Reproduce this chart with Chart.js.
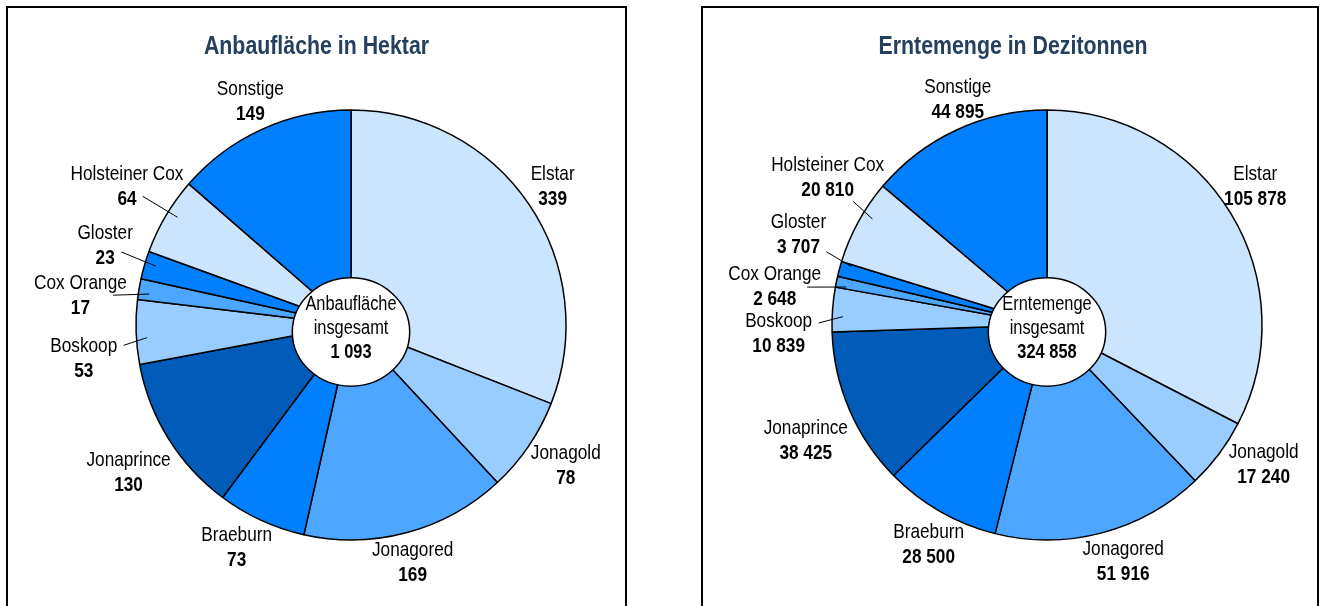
<!DOCTYPE html>
<html>
<head>
<meta charset="utf-8">
<script src="https://cdn.jsdelivr.net/npm/chart.js@4.4.1/dist/chart.umd.min.js"></script>
<style>
  html, body { margin: 0; padding: 0; background: #fff; width: 1324px; height: 606px; overflow: hidden; }
  .panel { position: absolute; top: 6px; height: 660px; border: 2px solid #000; border-bottom: none; box-sizing: border-box; }
  #p1 { left: 6px; width: 621px; }
  #p2 { left: 701px; width: 618px; }
  canvas { position: absolute; left: 0; top: 0; }
</style>
</head>
<body>
<div class="panel" id="p1"><canvas id="c1" width="617" height="598"></canvas></div>
<div class="panel" id="p2"><canvas id="c2" width="614" height="598"></canvas></div>
<script>
// data
const varieties = ['Elstar', 'Jonagold', 'Jonagored', 'Braeburn', 'Jonaprince', 'Boskoop', 'Cox Orange', 'Gloster', 'Holsteiner Cox', 'Sonstige'];
const areaHa = [339, 78, 169, 73, 130, 53, 17, 23, 64, 149];
const areaTotal = 1093;
const harvestDt = [105878, 17240, 51916, 28500, 38425, 10839, 2648, 3707, 20810, 44895];
const harvestTotal = 324858;

const sliceColors = ['#cce5ff', '#99ccff', '#4da6ff', '#0080ff', '#005cb8', '#99ccff', '#4da6ff', '#0080ff', '#cce5ff', '#0080ff'];

// label layout: turn (degrees) and extra distance (px) away from the slice middle
const leaderIdx = [5, 6, 7, 8];
const nudgeLeft = [0, 0, 1.5, 1.5, -3.5, -5.5, -3, 2, 4.5, 1];
const pushLeft = [-3, 0, -4, -1, 6, 11, 1, 6, -8, -6];
const nudgeRight = [-3, -3, -2, -2.5, -4, -6, -3, 5, 8.5, 4];
const pushRight = [-4, 1, -2, -2, 4, 10, 4, 12, -6, -8];

// narrow font: use Liberation Sans Narrow if it is there, else squeeze Liberation Sans
const probe = document.createElement('canvas').getContext('2d');
probe.font = '20px monospace';
const wMono = probe.measureText('Holsteiner Cox').width;
probe.font = '20px "Liberation Sans Narrow", monospace';
const hasNarrow = Math.abs(probe.measureText('Holsteiner Cox').width - wMono) > 0.5;
const FAMILY = hasNarrow ? '"Liberation Sans Narrow", sans-serif' : '"Liberation Sans", Arial, sans-serif';
const SX = hasNarrow ? 1 : 0.82;

function setFont(ctx, size, bold) {
  ctx.font = (bold ? 'bold ' : '') + size + 'px ' + FAMILY;
}
function textW(ctx, t, size, bold) {
  setFont(ctx, size, bold);
  return ctx.measureText(t).width * SX;
}
function drawText(ctx, t, x, y, size, bold, color) {
  setFont(ctx, size, bold);
  ctx.fillStyle = color || '#000';
  ctx.textAlign = 'center';
  ctx.textBaseline = 'middle';
  ctx.save();
  ctx.translate(x, y);
  ctx.scale(SX, 1);
  ctx.fillText(t, 0, 0);
  ctx.restore();
}
function fmt(v) {
  return String(v).replace(/\B(?=(\d{3})+(?!\d))/g, ' ');
}

const pieLabels = {
  id: 'pieLabels',
  afterDatasetsDraw(chart, args, opts) {
    const ctx = chart.ctx;
    const arcs = chart.getDatasetMeta(0).data;
    const vals = chart.data.datasets[0].data;
    const fs = 21;
    let C = null, R = 0;
    ctx.save();
    arcs.forEach((arc, i) => {
      const p = arc.getProps(['x', 'y', 'startAngle', 'endAngle', 'outerRadius'], true);
      C = { x: p.x, y: p.y }; R = p.outerRadius;
      const mid = (p.startAngle + p.endAngle) / 2;
      const turn = (opts.nudge[i] || 0) * Math.PI / 180;
      const a = mid + turn;
      const name = chart.data.labels[i];
      const val = fmt(vals[i]);
      const wn = textW(ctx, name, fs, false), wv = textW(ctx, val, fs, true);
      const hw = Math.max(wn, wv) / 2;
      const hh = 24;
      const dist = R + 10 + (opts.push[i] || 0);
      const lx = p.x + Math.cos(a) * (dist + hw);
      const ly = p.y + Math.sin(a) * (dist + hh);
      drawText(ctx, name, lx, ly - 12.5, fs, false, '#000');
      drawText(ctx, val, lx, ly + 12.5, fs, true, '#000');
      if (leaderIdx.includes(i)) {
        const ea = mid + turn * 0.3;
        const ex = p.x + Math.cos(ea) * R * 0.95;
        const ey = p.y + Math.sin(ea) * R * 0.95;
        let ux = ex - lx, uy = ey - ly;
        const n = Math.hypot(ux, uy); ux /= n; uy /= n;
        // start the leader just past the last text box it crosses
        const inside = (x, y) =>
          (Math.abs(y - (ly - 12.5)) <= 9 && Math.abs(x - lx) <= wn / 2 + 4) ||
          (Math.abs(y - (ly + 12.5)) <= 9 && Math.abs(x - lx) <= wv / 2 + 4);
        let last = -1;
        for (let t = 0; t < n; t += 0.5) {
          if (inside(lx + ux * t, ly + uy * t)) last = t;
        }
        const t0 = last < 0 ? hw * 0.7 : last + 3;
        ctx.beginPath();
        ctx.moveTo(lx + ux * t0, ly + uy * t0);
        ctx.lineTo(ex, ey);
        ctx.strokeStyle = '#000';
        ctx.lineWidth = 1;
        ctx.stroke();
      }
    });
    // white centre with the total
    const ey = C.y + 7;
    ctx.beginPath();
    ctx.ellipse(C.x, ey, R * 0.273, R * 0.252, 0, 0, Math.PI * 2);
    ctx.fillStyle = '#fff';
    ctx.fill();
    ctx.lineWidth = 1.5;
    ctx.strokeStyle = '#000';
    ctx.stroke();
    drawText(ctx, opts.centerWord, C.x, ey - 28, 20, false, '#000');
    drawText(ctx, 'insgesamt', C.x, ey - 4, 20, false, '#000');
    drawText(ctx, fmt(opts.total), C.x, ey + 20, 20, true, '#000');
    // title
    drawText(ctx, opts.title, chart.width / 2 + opts.titleShift, 39, 26, true, '#25405f');
    ctx.restore();
  }
};

function makePie(id, values, total, centerWord, title, nudge, push, cx, titleShift) {
  const canvas = document.getElementById(id);
  const W = canvas.width, H = canvas.height;
  const r = 215, cy = 317;
  new Chart(canvas, {
    type: 'pie',
    data: {
      labels: varieties,
      datasets: [{
        data: values,
        backgroundColor: sliceColors,
        borderColor: '#000',
        borderWidth: 1.5
      }]
    },
    options: {
      responsive: false,
      animation: false,
      events: [],
      radius: r,
      layout: { padding: { left: cx - r, right: W - cx - r, top: cy - r, bottom: H - cy - r } },
      plugins: {
        legend: { display: false },
        tooltip: { enabled: false },
        pieLabels: { total, centerWord, title, nudge, push, titleShift }
      }
    },
    plugins: [pieLabels]
  });
}

makePie('c1', areaHa, areaTotal, 'Anbaufläche', 'Anbaufläche in Hektar', nudgeLeft, pushLeft, 343, 0);
makePie('c2', harvestDt, harvestTotal, 'Erntemenge', 'Erntemenge in Dezitonnen', nudgeRight, pushRight, 344, 3);
</script>
</body>
</html>
